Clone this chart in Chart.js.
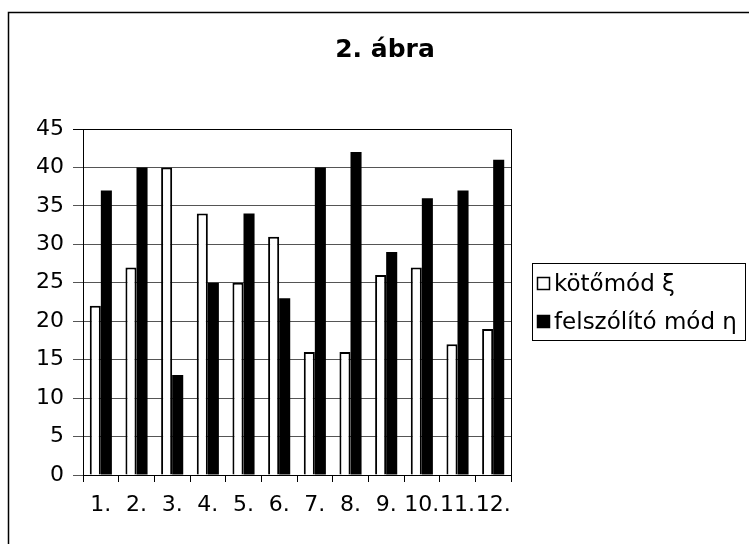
<!DOCTYPE html>
<html>
<head>
<meta charset="utf-8">
<script src="https://cdn.jsdelivr.net/npm/chart.js@4"></script>
<style>
html,body{margin:0;padding:0;background:#fff;}
#wrap{position:absolute;left:0;top:0;width:749px;height:544px;}
</style>
</head>
<body>
<div id="wrap"><canvas id="c" width="749" height="544"></canvas></div>
<script>
const titleText = '2. ábra';
const categories = ['1.', '2.', '3.', '4.', '5.', '6.', '7.', '8.', '9.', '10.', '11.', '12.'];
const seriesNames = ['kötőmód ξ', 'felszólító mód η'];
const kotomod = [22, 27, 40, 34, 25, 31, 16, 16, 26, 27, 17, 19];
const felszolito = [37, 40, 13, 25, 34, 23, 40, 42, 29, 36, 37, 41];
const yMin = 0, yMax = 45, yStep = 5;

const FONT = '"DejaVu Sans", "Liberation Sans", Arial, sans-serif';

const framePlugin = {
  id: 'frame',
  beforeDraw(chart) {
    const ctx = chart.ctx;
    ctx.save();
    ctx.fillStyle = '#fff';
    ctx.fillRect(0, 0, chart.width, chart.height);
    ctx.restore();
  },
  afterDraw(chart) {
    const ctx = chart.ctx;
    const a = chart.chartArea;
    ctx.save();
    // outer frame (left and top edges visible)
    ctx.strokeStyle = '#000';
    ctx.lineWidth = 1.5;
    ctx.beginPath();
    ctx.moveTo(8.5, chart.height + 2);
    ctx.lineTo(8.5, 12.5);
    ctx.lineTo(chart.width + 2, 12.5);
    ctx.stroke();
    // plot area border
    ctx.lineWidth = 1;
    ctx.strokeRect(Math.round(a.left) + 0.5, Math.round(a.top) + 0.5, Math.round(a.right - a.left), Math.round(a.bottom - a.top));
    // title
    ctx.fillStyle = '#000';
    ctx.font = 'bold 25px ' + FONT;
    ctx.textAlign = 'center';
    ctx.textBaseline = 'alphabetic';
    ctx.fillText(titleText, 385, 57);
    // legend
    const lx = 532, ly = 263, lw = 213, lh = 77;
    ctx.lineWidth = 1;
    ctx.strokeRect(lx + 0.5, ly + 0.5, lw, lh);
    ctx.font = '23px ' + FONT;
    ctx.textAlign = 'left';
    ctx.textBaseline = 'middle';
    chart.data.datasets.forEach((ds, i) => {
      const cy = 284 + 38 * i;
      ctx.fillStyle = ds.backgroundColor;
      ctx.fillRect(537, cy - 7, 13, 13);
      ctx.strokeStyle = '#000';
      ctx.lineWidth = 1.5;
      ctx.strokeRect(537.5, cy - 6.5, 12, 12);
      ctx.fillStyle = '#000';
      ctx.fillText(ds.label, 554, cy + 1);
    });
    ctx.restore();
  }
};

new Chart(document.getElementById('c'), {
  type: 'bar',
  data: {
    labels: categories,
    datasets: [
      { label: seriesNames[0], data: kotomod, backgroundColor: '#ffffff', borderColor: '#000000', borderWidth: 2, borderSkipped: 'bottom' },
      { label: seriesNames[1], data: felszolito, backgroundColor: '#000000', borderColor: '#000000', borderWidth: 0 }
    ]
  },
  plugins: [framePlugin],
  options: {
    responsive: false,
    animation: false,
    devicePixelRatio: 1,
    layout: { padding: { left: 0, top: 129, right: 238, bottom: 0 } },
    datasets: { bar: { categoryPercentage: 0.62, barPercentage: 1.0 } },
    plugins: {
      legend: { display: false },
      title: { display: false },
      tooltip: { enabled: false }
    },
    scales: {
      x: {
        offset: true,
        grid: { display: true, drawOnChartArea: false, drawTicks: true, tickLength: 7, offset: true, color: '#000', lineWidth: 1 },
        border: { display: true, color: '#000', width: 1 },
        ticks: { color: '#000', font: { family: FONT, size: 22 }, autoSkip: false, maxRotation: 0, minRotation: 0, padding: 10 },
        afterFit(scale) { scale.height = 69; }
      },
      y: {
        min: yMin, max: yMax,
        grid: { color: (c) => (c.tick && c.tick.value === yMax) ? '#000' : '#555', lineWidth: 1, tickLength: 10, drawTicks: true },
        border: { display: true, color: '#000', width: 1 },
        ticks: { stepSize: yStep, color: '#000', font: { family: FONT, size: 22 }, padding: 9 },
        afterFit(scale) { scale.width = 83; }
      }
    }
  }
});
</script>
</body>
</html>
